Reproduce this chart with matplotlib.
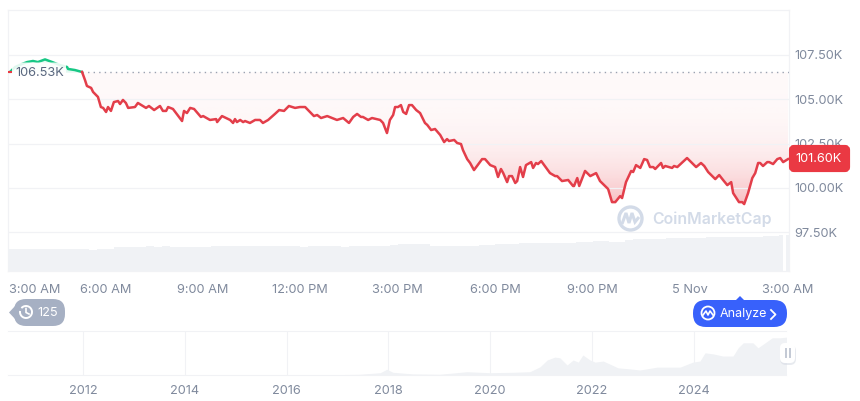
import numpy as np
import matplotlib
matplotlib.use("Agg")
import matplotlib.pyplot as plt
from matplotlib.patches import FancyBboxPatch, Polygon, Circle, Arc, PathPatch
from matplotlib.path import Path
from matplotlib.transforms import ScaledTranslation

plt.rcParams['font.family'] = ['Inter', 'DejaVu Sans']

# hours since 3:00 AM
hours = [0.06, 0.22, 0.43, 0.59, 0.77, 0.92, 1.14, 1.36, 1.60, 1.82, 1.85, 2.06, 2.28,
         2.37, 2.43, 2.56, 2.62, 2.77, 2.86, 2.93, 3.02, 3.08, 3.17, 3.26, 3.39, 3.45, 3.54,
         3.63, 3.70, 3.91, 4.00, 4.25, 4.34, 4.50, 4.68, 4.77, 4.87, 4.93, 5.08, 5.36, 5.42,
         5.51, 5.61, 5.73, 5.94, 6.01, 6.22, 6.41, 6.44, 6.59, 6.84, 6.93, 6.99, 7.05, 7.15,
         7.24, 7.30, 7.45, 7.61, 7.76, 7.85, 8.01, 8.22, 8.35, 8.50, 8.65, 8.84, 8.99, 9.15,
         9.42, 9.52, 9.64, 9.83, 10.13, 10.32, 10.50, 10.63, 10.75, 10.87, 10.93, 11.09, 11.21,
         11.46, 11.55, 11.67, 11.76, 11.86, 11.92, 12.01, 12.10, 12.17, 12.26, 12.35, 12.44,
         12.57, 12.69, 12.84, 12.91, 13.03, 13.15, 13.31, 13.43, 13.52, 13.58, 13.74, 13.83,
         13.95, 14.01, 14.14, 14.23, 14.35, 14.60, 14.69, 14.85, 15.00, 15.09, 15.18, 15.25,
         15.37, 15.43, 15.52, 15.62, 15.68, 15.77, 15.86, 15.95, 16.11, 16.17, 16.26, 16.32,
         16.42, 16.69, 16.85, 16.91, 17.06, 17.25, 17.40, 17.43, 17.53, 17.59, 17.77, 17.93,
         18.11, 18.23, 18.48, 18.60, 18.70, 18.85, 18.91, 19.03, 19.19, 19.25, 19.34, 19.47,
         19.59, 19.68, 19.77, 19.87, 19.93, 20.11, 20.17, 20.24, 20.45, 20.51, 20.61, 20.91,
         21.19, 21.34, 21.44, 21.56, 21.78, 21.90, 22.02, 22.15, 22.27, 22.33, 22.51, 22.61,
         22.67, 22.79, 22.92, 23.01, 23.10, 23.16, 23.25, 23.38, 23.44, 23.56, 23.69, 23.78,
         23.87, 24.02]

# price in thousands
price = [106.54, 106.82, 106.99, 107.10, 107.16, 107.10, 107.25, 107.10, 106.93, 106.82, 106.71, 106.65, 106.54,
         106.09, 105.75, 105.64, 105.41, 105.13, 104.56, 104.51, 104.28, 104.56, 104.34, 104.84, 104.90, 104.73, 104.96,
         104.79, 104.51, 104.56, 104.79, 104.51, 104.62, 104.39, 104.62, 104.34, 104.34, 104.56, 104.45, 103.77, 104.34,
         104.22, 104.51, 104.45, 104.00, 104.05, 103.83, 103.88, 103.71, 104.05, 103.83, 103.66, 103.88, 103.71, 103.83,
         103.71, 103.77, 103.66, 103.83, 103.83, 103.66, 103.83, 104.17, 104.39, 104.34, 104.62, 104.51, 104.56, 104.56,
         104.05, 104.11, 103.94, 104.05, 103.83, 103.94, 103.66, 104.00, 104.17, 104.00, 104.00, 103.83, 103.94, 103.83,
         103.66, 103.09, 103.83, 104.11, 104.56, 104.56, 104.67, 104.28, 104.17, 104.67, 104.67, 104.39, 104.22, 103.66,
         103.55, 103.26, 103.32, 102.98, 102.58, 102.75, 102.64, 102.70, 102.53, 102.47, 102.13, 101.62, 101.40, 101.00,
         101.62, 101.62, 101.28, 101.17, 100.61, 101.06, 100.83, 100.32, 100.66, 100.66, 100.27, 100.38, 101.17, 100.61,
         101.28, 101.45, 101.12, 101.40, 101.34, 101.51, 100.83, 100.66, 100.66, 100.38, 100.44, 100.10, 100.10, 100.55,
         100.10, 100.95, 100.66, 100.83, 100.38, 99.93, 99.19, 99.19, 99.53, 99.42, 100.32, 100.95, 100.89, 101.28, 101.12,
         101.62, 101.57, 101.17, 101.17, 101.06, 101.40, 101.12, 101.23, 101.12, 101.23, 101.17, 101.68, 101.17, 101.40,
         101.23, 100.89, 100.49, 100.72, 100.44, 100.15, 100.32, 99.70, 99.19, 99.19, 99.08, 99.70, 100.55, 100.83, 101.40,
         101.40, 101.23, 101.45, 101.45, 101.34, 101.62, 101.68, 101.45, 101.62]

baseline = 106.53
current = 101.60

y_ticks = [97.5, 100.0, 102.5, 105.0, 107.5]
x_ticks = [0, 3, 6, 9, 12, 15, 18, 21, 24]
x_labels = ["3:00 AM", "6:00 AM", "9:00 AM", "12:00 PM", "3:00 PM", "6:00 PM", "9:00 PM", "5 Nov", "3:00 AM"]

# 15 minute volume, relative
volume = [22, 22, 22, 22, 22, 22, 22, 22, 22, 22, 21, 22, 22, 24, 24, 24,
          24, 25, 24, 25, 24, 24, 24, 24, 24, 25, 25, 25, 25, 25, 25, 25,
          25, 25, 25, 25, 24, 25, 25, 25, 25, 24, 25, 25, 25, 25, 25, 26,
          27, 27, 27, 27, 25, 25, 25, 25, 25, 25, 26, 26, 27, 27, 27, 28,
          28, 28, 28, 28, 28, 28, 29, 29, 30, 30, 29, 29, 31, 32, 32, 32,
          32, 33, 33, 33, 33, 33, 34, 34, 34, 34, 34, 34, 34, 35, 35, 36]
volume_last = 36

years = [2012, 2014, 2016, 2018, 2020, 2022, 2024]
hist_year = [2010.53, 2015.0, 2016.85, 2017.44, 2017.84, 2017.97, 2018.09, 2018.48, 2019.01, 2019.54,
             2019.99, 2020.45, 2020.78, 2020.98, 2021.12, 2021.27, 2021.37, 2021.51, 2021.63, 2021.73,
             2021.82, 2021.96, 2022.06, 2022.22, 2022.39, 2022.51, 2022.75, 2022.94, 2023.28, 2023.59,
             2023.73, 2023.98, 2024.12, 2024.22, 2024.38, 2024.57, 2024.77, 2024.87, 2024.97, 2025.16,
             2025.26, 2025.40, 2025.54, 2025.69, 2025.83]
hist_price = [0, 0.2, 0.8, 2, 6.4, 16, 7.6, 3, 2, 9.2, 6.4, 7.6, 9.2, 23, 42, 50, 48, 28, 42, 36,
              56, 42, 36, 39, 28, 20, 17, 14, 22, 22, 22, 36, 39, 62, 59, 53, 53, 76, 90, 90,
              76, 90, 104, 104, 106]

RED = "#ea3943"
LINE_RED = "#e33e4a"
GREEN = "#16c784"
GRID = "#f1f2f5"
BAR = "#f0f2f5"
LABEL = "#808a9d"
W, H = 860, 401


def rect(x, y, w, h):
    return [x / W, 1 - (y + h) / H, w / W, h / H]


fig = plt.figure(figsize=(8.6, 4.01), dpi=100)

ax = fig.add_axes(rect(8, 10, 781, 261))
ax.set_xlim(0, 24.05)
ax.set_ylim(95.30, 110.04)
for s in ax.spines.values():
    s.set_color(GRID)
    s.set_linewidth(0.9)
ax.yaxis.tick_right()
ax.set_yticks(y_ticks)
ax.set_yticklabels([f"{v:.2f}K" for v in y_ticks])
ax.set_xticks(x_ticks)
ax.set_xticklabels(x_labels)
ax.tick_params(axis="both", length=0, labelsize=9.2, labelcolor=LABEL)
ax.tick_params(axis="x", pad=9.5)
ax.tick_params(axis="y", pad=4)
first = ax.xaxis.get_ticklabels()[0]
first.set_ha("left")
first.set_transform(first.get_transform() + ScaledTranslation(1 / 100, 0, fig.dpi_scale_trans))
ax.grid(axis="y", color=GRID, lw=0.9, zorder=3)
ax.set_axisbelow(False)

t = np.array(hours)
p = np.array(price)
split = 12

# red gradient under the baseline, clipped to the area above the line
grad = np.zeros((200, 2, 4))
grad[..., :3] = matplotlib.colors.to_rgb(RED)
grad[..., 3] = (0.03 + 0.30 * np.linspace(1, 0, 200) ** 3)[:, None]
low = p.min()
im = ax.imshow(grad, extent=(0, 24.05, low, baseline), origin="lower", aspect="auto", zorder=1)
band = ax.fill_between(t[split:], p[split:], baseline, color="none", lw=0)
im.set_clip_path(band.get_paths()[0], transform=ax.transData)
ax.set_xlim(0, 24.05)
ax.set_ylim(95.30, 110.04)

ax.fill_between(t[:split + 1], p[:split + 1], baseline, color=GREEN, alpha=0.12, lw=0, zorder=1)
ax.plot([t[split], 24.05], [baseline, baseline], color="#9aa2b1", lw=1, ls=(0, (1, 3)), zorder=4)
ax.plot(t[:split + 1], p[:split + 1], color=GREEN, lw=1.8, zorder=5, solid_capstyle="round")
ax.plot(t[split:], p[split:], color=LINE_RED, lw=1.8, zorder=5, solid_joinstyle="round")
ax.plot([0.02, 0.09], [baseline, baseline], color=RED, lw=1.5, zorder=7)

ax_vol = fig.add_axes(rect(8, 10, 781, 261))
ax_vol.patch.set_visible(False)
ax_vol.set_xlim(0, 24.05)
ax_vol.set_ylim(0, 261)
ax_vol.axis("off")
vol_t = np.arange(len(volume)) * 0.25
vol_w = [0.25] * (len(volume) - 1) + [0.12]
ax_vol.bar(vol_t, volume, width=vol_w, align="edge", color=BAR, lw=0)
ax_vol.bar([23.97], [volume_last], width=0.07, align="edge", color=BAR, lw=0)

# navigator
nav = fig.add_axes(rect(8, 331, 778, 44))
nav.set_xlim(2010.53, 2025.81)
nav.set_ylim(0, 123)
nav.fill_between(hist_year, hist_price, 0, color=BAR, lw=0, zorder=2)
nav.set_xticks(years)
nav.set_xticklabels([str(y) for y in years])
nav.set_yticks([])
nav.tick_params(axis="x", length=0, labelsize=9.2, labelcolor=LABEL, pad=7.5)
nav.grid(axis="x", color=GRID, lw=0.8, zorder=1)
nav.set_axisbelow(True)
for name, s in nav.spines.items():
    s.set_color(GRID)
    s.set_linewidth(0.8)
    s.set_visible(name in ("top", "bottom"))

# overlay in pixel coordinates for badges, watermark and the like
ov = fig.add_axes([0, 0, 1, 1])
ov.set_xlim(0, W)
ov.set_ylim(H, 0)
ov.axis("off")
ov.patch.set_visible(False)

ov.add_patch(FancyBboxPatch((12, 62.5), 54, 20, boxstyle="round,pad=0,rounding_size=2", fc="white", ec="none", alpha=0.88))
ov.text(15, 73.5, "106.53K", color="#58667e", fontsize=9.2, ha="left", va="center")

ov.add_patch(FancyBboxPatch((791, 147), 57, 23, boxstyle="round,pad=0,rounding_size=3", fc=RED, ec=RED, lw=3, zorder=5))
ov.text(819, 159, f"{current:.2f}K", color="white", fontsize=9.2, ha="center", va="center", zorder=6)

# history badge
ov.add_patch(FancyBboxPatch((14, 299), 51, 27, boxstyle="round,pad=0,rounding_size=12", fc="#a6b0c3", ec="none"))
ov.add_patch(Polygon([[9, 312.5], [16, 305], [16, 320]], fc="#a6b0c3", ec="none"))
ov.add_patch(Arc((26, 312), 12, 12, theta1=-140, theta2=190, color="white", lw=1.4))
ov.plot([26, 26, 29], [308.5, 312.5, 314], color="white", lw=1.2)
ov.text(37, 313, "125", color="white", fontsize=9.2, ha="left", va="center")

# analyze badge
ov.add_patch(FancyBboxPatch((693, 300), 94, 27, boxstyle="round,pad=0,rounding_size=13", fc="#3861fb", ec="none"))
ov.add_patch(Polygon([[735, 301], [740, 296], [745, 301]], fc="#3861fb", ec="none"))
ov.add_patch(Circle((708, 313), 6.5, fc="none", ec="white", lw=1.3))
ov.plot([703, 706, 708, 710, 713], [315, 311, 315, 311, 315], color="white", lw=1.2)
ov.text(720, 313.5, "Analyze", color="white", fontsize=9, ha="left", va="center")
ov.plot([771, 775.5, 771], [310, 314.5, 319], color="white", lw=1.3)

# slider handle
ov.add_patch(FancyBboxPatch((780, 345), 16, 20, boxstyle="round,pad=0,rounding_size=6", fc="#d5dae3", ec="none", alpha=0.55))
ov.add_patch(FancyBboxPatch((780, 343), 15, 20, boxstyle="round,pad=0,rounding_size=5", fc="white", ec="none"))
ov.plot([786, 786], [349, 357], color="#c3c9d4", lw=1.4)
ov.plot([789.5, 789.5], [349, 357], color="#c3c9d4", lw=1.4)

# watermark
MARK = "#d3dbe8"
ov.add_patch(Circle((630.5, 218.5), 11.5, fc="none", ec=MARK, lw=2.4, zorder=4))
verts = [(622, 224), (626, 213), (629, 223), (632, 213), (635, 222), (639, 217)]
ov.add_patch(PathPatch(Path(verts), fc="none", ec=MARK, lw=2.2, zorder=4))
ov.text(652, 219, "CoinMarketCap", color=MARK, fontsize=11.4, fontweight="semibold", ha="left", va="center", zorder=4)

fig.savefig("out.png", dpi=100)
